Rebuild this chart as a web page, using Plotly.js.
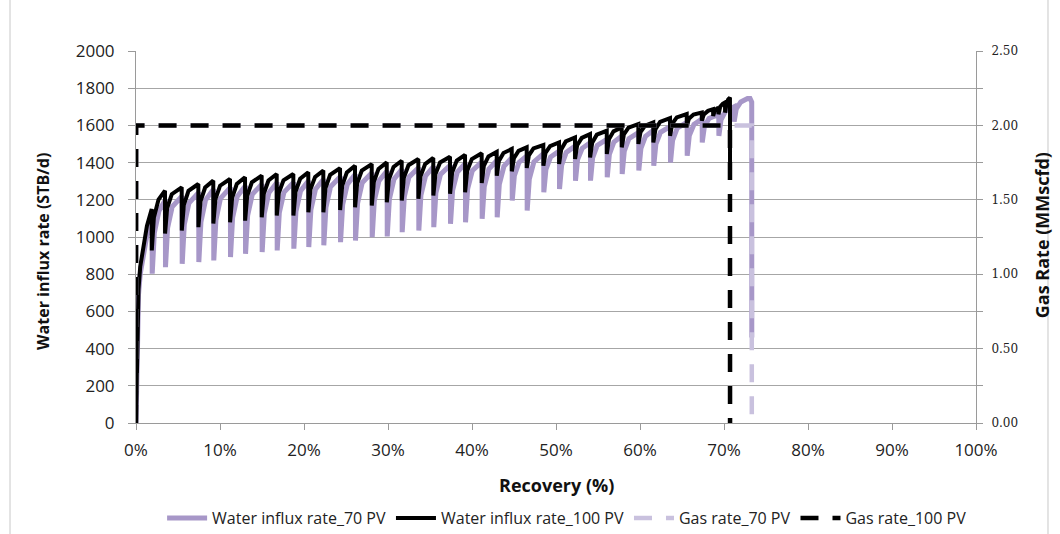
<!DOCTYPE html>
<html>
<head>
<meta charset="utf-8">
<script src="https://cdn.plot.ly/plotly-3.0.1.min.js"></script>
<style>html,body{margin:0;padding:0;background:#fff;}#chart{width:1060px;height:534px;}</style>
</head>
<body>
<div id="chart"></div>
<script>
// Recovery (%) and water influx rate (STB/d), 70 PV case
const water70X = [0,0.1,0.2,0.3,0.5,0.9,1.3,1.92,
1.93,2.18,2.73,3.50, 3.51,3.76,4.31,5.49, 5.50,5.75,6.30,7.47, 7.48,7.73,8.28,9.25,
9.26,9.51,10.06,11.24, 11.25,11.50,12.05,13.03, 13.04,13.29,13.84,15.01, 15.02,15.27,15.82,16.80,
16.81,17.06,17.61,18.78, 18.79,19.04,19.59,20.56, 20.57,20.82,21.37,22.35, 22.36,22.61,23.16,24.34,
24.35,24.60,25.15,26.12, 26.13,26.38,26.93,28.11, 28.12,28.37,28.92,29.90, 29.91,30.16,30.71,31.68,
31.69,31.94,32.49,33.66, 33.67,33.92,34.47,35.44, 35.45,35.70,36.25,37.43, 37.44,37.69,38.24,39.22,
39.23,39.48,40.03,41.20, 41.21,41.46,42.01,42.99, 43.00,43.25,43.80,44.78, 44.79,45.04,45.59,46.56,
46.57,46.82,47.37,48.54, 48.55,48.80,49.35,50.41, 50.42,50.67,51.22,52.31, 52.32,52.57,53.12,54.10,
54.11,54.36,54.91,56.09, 56.10,56.35,56.90,57.87, 57.88,58.13,58.68,59.85, 59.86,60.11,60.66,61.63,
61.64,61.89,62.44,63.62, 63.63,63.88,64.43,65.61, 65.62,65.87,66.42,67.40, 67.41,67.66,68.21,69.38,
69.39,69.64,70.19,71.20, 71.21,71.46,72.00,72.80,73.10,73.30, 73.31];
const water70Y = [0,280,560,690,800,910,1010,1105,
803,1021,1140,1200, 838,1048,1163,1220, 856,1067,1182,1240, 865,1081,1199,1258,
874,1090,1208,1267, 892,1103,1218,1276, 910,1116,1229,1285, 919,1125,1238,1294,
928,1130,1240,1295, 937,1138,1248,1303, 946,1147,1257,1312, 955,1159,1270,1325,
972,1173,1283,1338, 981,1182,1292,1347, 999,1195,1302,1356, 1003,1202,1311,1365,
1026,1217,1322,1374, 1035,1225,1328,1380, 1053,1237,1337,1387, 1071,1250,1348,1397,
1079,1258,1356,1405, 1098,1271,1366,1413, 1106,1283,1380,1428, 1196,1329,1401,1437,
1142,1311,1404,1450, 1240,1363,1430,1463, 1258,1386,1455,1490, 1303,1416,1477,1508,
1303,1426,1493,1526, 1321,1444,1511,1544, 1339,1462,1529,1562, 1357,1477,1542,1575,
1383,1500,1563,1595, 1401,1520,1585,1617, 1437,1546,1605,1635, 1508,1592,1637,1660,
1544,1630,1677,1700, 1620,1689,1726,1745,1745,1725, 460];

// Recovery (%) and water influx rate (STB/d), 100 PV case
const water100X = [0,0.1,0.2,0.3,0.5,0.87,1.3,1.87,
1.88,2.13,2.68,3.45, 3.46,3.71,4.26,5.44, 5.45,5.70,6.25,7.42, 7.43,7.68,8.23,9.20,
9.21,9.46,10.01,11.19, 11.20,11.45,12.00,12.98, 12.99,13.24,13.79,14.96, 14.97,15.22,15.77,16.75,
16.76,17.01,17.56,18.73, 18.74,18.99,19.54,20.51, 20.52,20.77,21.32,22.30, 22.31,22.56,23.11,24.29,
24.30,24.55,25.10,26.07, 26.08,26.33,26.88,28.06, 28.07,28.32,28.87,29.85, 29.86,30.11,30.66,31.63,
31.64,31.89,32.44,33.61, 33.62,33.87,34.42,35.39, 35.40,35.65,36.20,37.38, 37.39,37.64,38.19,39.17,
39.18,39.43,39.98,41.15, 41.16,41.41,41.96,42.94, 42.95,43.20,43.75,44.73, 44.74,44.99,45.54,46.51,
46.52,46.77,47.32,48.49, 48.50,48.75,49.30,50.36, 50.37,50.62,51.17,52.26, 52.27,52.52,53.07,54.05,
54.06,54.31,54.86,56.04, 56.05,56.30,56.85,57.82, 57.83,58.08,58.63,59.80, 59.81,60.06,60.61,61.58,
61.59,61.84,62.39,63.57, 63.58,63.83,64.38,65.56, 65.57,65.82,66.37,67.35, 67.36,67.60,68.10,68.70,
68.71,68.90,69.33, 69.34,69.55,69.85,70.12, 70.13,70.30,70.50,70.71, 70.72];
const water100Y = [0,300,590,720,840,945,1060,1150,
928,1105,1201,1249, 1019,1155,1230,1267, 1035,1173,1248,1285, 1053,1191,1266,1303,
1072,1204,1276,1312, 1079,1212,1285,1321, 1088,1221,1294,1330, 1106,1234,1304,1339,
1115,1238,1305,1339, 1115,1243,1313,1348, 1133,1256,1323,1357, 1133,1263,1334,1370,
1145,1276,1347,1383, 1160,1288,1357,1392, 1169,1297,1366,1401, 1187,1310,1377,1410,
1196,1319,1386,1419, 1205,1326,1392,1425, 1223,1338,1401,1432, 1232,1348,1411,1442,
1240,1356,1419,1450, 1290,1382,1433,1458, 1330,1409,1452,1473, 1353,1424,1463,1482,
1371,1439,1476,1494, 1383,1452,1489,1508, 1393,1471,1514,1535, 1419,1493,1533,1553,
1428,1507,1550,1571, 1446,1525,1568,1589, 1482,1551,1588,1607, 1500,1564,1599,1616,
1508,1580,1619,1639, 1544,1608,1643,1661, 1595,1636,1658,1669, 1625,1659,1678,1687,
1651,1680,1696, 1660,1700,1716,1723, 1669,1718,1740,1750, 1400];

// Gas rate (MMscfd)
const gas70X = [0, 0.02, 73.30, 73.31];
const gas70Y = [0, 2.00, 2.00, 0];
const gas100X = [0, 0.02, 70.71, 70.72];
const gas100Y = [0, 2.00, 2.00, 0];

const seriesNames = ['Water influx rate_70 PV', 'Water influx rate_100 PV', 'Gas rate_70 PV', 'Gas rate_100 PV'];
const xTickVals = [0,10,20,30,40,50,60,70,80,90,100];
const xTickText = ['0%','10%','20%','30%','40%','50%','60%','70%','80%','90%','100%'];
const yTickVals = [0,200,400,600,800,1000,1200,1400,1600,1800,2000];
const y2TickVals = [0,0.25,0.5,0.75,1,1.25,1.5,1.75,2,2.25,2.5];
const y2TickText = ['0.00','','0.50','','1.00','','1.50','','2.00','','2.50'];
const xTitle = 'Recovery (%)';
const yTitle = 'Water influx rate (STB/d)';
const y2Title = 'Gas Rate (MMscfd)';

const purple = '#a797c8';
const purpleLight = '#c9c1de';
const FONT = 'Open Sans, sans-serif';

const traces = [
  {x: gas70X, y: gas70Y, name: seriesNames[2], type: 'scatter', mode: 'lines', legendrank: 3,
   line: {color: purpleLight, width: 4.5, dash: '18px,14px'}, yaxis: 'y2'},
  {x: water70X, y: water70Y, name: seriesNames[0], type: 'scatter', mode: 'lines', legendrank: 1,
   line: {color: purple, width: 5}, yaxis: 'y'},
  {x: water100X, y: water100Y, name: seriesNames[1], type: 'scatter', mode: 'lines', legendrank: 2,
   line: {color: '#000000', width: 4}, yaxis: 'y'},
  {x: gas100X, y: gas100Y, name: seriesNames[3], type: 'scatter', mode: 'lines', legendrank: 4,
   line: {color: '#000000', width: 4.5, dash: '18px,14px'}, yaxis: 'y2'}
];

const tickFont = {family: FONT, size: 17, color: '#222'};

const layout = {
  width: 1060, height: 534,
  margin: {l: 136, r: 84, t: 51, b: 111},
  paper_bgcolor: '#ffffff', plot_bgcolor: '#ffffff',
  showlegend: true,
  legend: {orientation: 'h', xref: 'container', yref: 'container', x: 0.535, xanchor: 'center',
           y: 0.03, yanchor: 'middle', itemwidth: 40,
           font: {family: FONT, size: 16, color: '#222'}, traceorder: 'normal'},
  xaxis: {range: [0, 100], tickvals: xTickVals, ticktext: xTickText, showgrid: false, automargin: false,
          showline: true, linecolor: '#9a9a9a', linewidth: 1, ticks: 'outside', ticklen: 6,
          tickcolor: '#9a9a9a', tickfont: tickFont, zeroline: false, ticklabelstandoff: 6},
  yaxis: {range: [0, 2000], tickvals: yTickVals, showgrid: true, gridcolor: '#a6a6a6', gridwidth: 1,
          automargin: false,
          showline: true, linecolor: '#9a9a9a', linewidth: 1, ticks: 'outside', ticklen: 7,
          tickcolor: '#9a9a9a', tickfont: tickFont, zeroline: false, ticklabelstandoff: 10},
  yaxis2: {range: [0, 2.5], overlaying: 'y', side: 'right', tickvals: y2TickVals, ticktext: y2TickText,
           automargin: false,
           showgrid: false, showline: true, linecolor: '#9a9a9a', linewidth: 1, ticks: 'outside', ticklen: 6,
           tickcolor: '#9a9a9a', zeroline: false, ticklabelstandoff: 6,
           tickfont: {family: 'DejaVu Serif, serif', size: 12, color: '#222'}},
  annotations: [
    {text: '<b>' + xTitle + '</b>', xref: 'paper', yref: 'paper', x: 0.5, y: -0.167,
     xanchor: 'center', yanchor: 'middle', showarrow: false, font: {family: FONT, size: 18, color: '#111'}},
    {text: '<b>' + yTitle + '</b>', xref: 'paper', yref: 'paper', x: -0.1107, y: 0.46, textangle: -90,
     xanchor: 'center', yanchor: 'middle', showarrow: false, font: {family: FONT, size: 16, color: '#111'}},
    {text: '<b>' + y2Title + '</b>', xref: 'paper', yref: 'paper', x: 1.0786, y: 0.505, textangle: -90,
     xanchor: 'center', yanchor: 'middle', showarrow: false, font: {family: FONT, size: 18, color: '#111'}}
  ],
  shapes: [
    {type: 'rect', xref: 'paper', yref: 'paper', x0: -0.15, x1: 1.0857, y0: -0.35, y1: 1.2,
     line: {color: '#c8c8c8', width: 1}, fillcolor: 'rgba(0,0,0,0)', layer: 'below'}
  ]
};

Plotly.newPlot('chart', traces, layout, {displayModeBar: false, staticPlot: true});
</script>
</body>
</html>
